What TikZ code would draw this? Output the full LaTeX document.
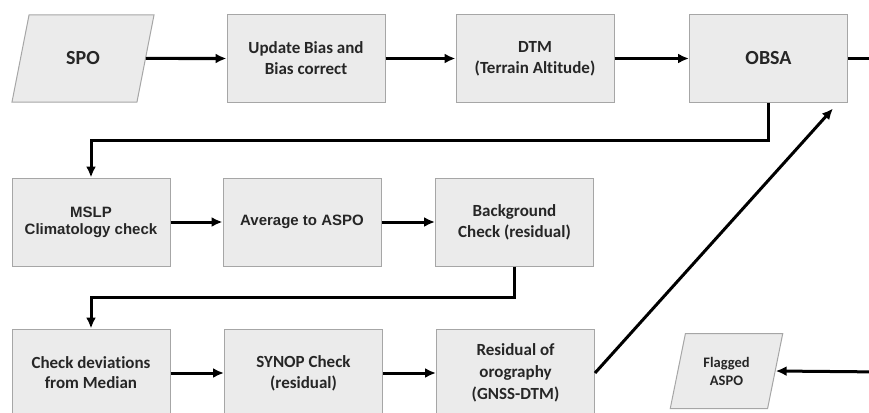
\documentclass[tikz,border=0pt]{standalone}
\usepackage{fontspec}
\setsansfont{Carlito}[Ligatures=NoCommon]
\newfontfamily\arialbold{Liberation Sans}[BoldFont={* Bold}]
\usetikzlibrary{shapes.geometric,arrows.meta,calc}

\begin{document}
\begin{tikzpicture}[x=1pt,y=-1pt,
	box/.style={draw=black!35, line width=1pt, fill=black!8, minimum width=158pt, minimum height=87pt, align=center, inner sep=2pt, text=black!85, font=\sffamily\bfseries\fontsize{17}{21}\selectfont},
	iobox/.style={box, trapezium, trapezium left angle=71, trapezium right angle=109, trapezium stretches=true},
	flow/.style={line width=3pt, -{Latex[length=11pt,width=10pt]}},
	link/.style={line width=3pt}]
	\useasboundingbox (0,0) rectangle (869,412);
	\clip (0,0) rectangle (869,412);
	
	\def\ra{58.5} % row 1
	\def\rb{222} % row 2
	\def\rc{373} % row 3
	
	% row 1
	\node[iobox, minimum width=142pt, font=\sffamily\bfseries\fontsize{20}{24}\selectfont] (spo) at (83,\ra) {SPO};
	\node[box] (upd) at (306,\ra) {Update Bias and\\Bias correct};
	\node[box] (dtm) at (535,\ra) {DTM\\(Terrain Altitude)};
	\node[box, font=\sffamily\bfseries\fontsize{20}{24}\selectfont] (obsa) at (768.5,\ra) {OBSA};
	
	% row 2
	\node[box, minimum height=88pt, font=\arialbold\bfseries\fontsize{15}{17}\selectfont] (mslp) at (91,\rb) {MSLP\\Climatology check};
	\node[box, minimum height=88pt, font=\arialbold\bfseries\fontsize{15}{17}\selectfont] (avg) at (302,\rb) {Average to ASPO};
	\node[box, minimum height=88pt] (bgc) at (514.5,\rb) {Background\\Check (residual)};
	
	% row 3 (cut by the bottom edge)
	\node[box, minimum height=88pt, font=\sffamily\bfseries\fontsize{17}{20}\selectfont] (dev) at (91,\rc) {Check deviations\\from Median};
	\node[box, minimum height=88pt] (syn) at (303.5,\rc) {SYNOP Check\\(residual)};
	\node[box, minimum height=88pt, font=\sffamily\bfseries\fontsize{17}{22}\selectfont] (res) at (515.5,\rc) {Residual of\\orography\\(GNSS-DTM)};
	\node[iobox, minimum width=113pt, minimum height=75pt, trapezium left angle=74, trapezium right angle=106, font=\sffamily\bfseries\fontsize{14.5}{18}\selectfont] (flg) at (726.5,371) {Flagged\\ASPO};
	
	% loose ends, off the right edge
	\coordinate (outa) at (885,\ra);
	\coordinate (outc) at (885,372);
	
	% connectors
	\draw[flow] (spo) -- (upd);
	\draw[flow] (upd) -- (dtm);
	\draw[flow] (dtm) -- (obsa);
	\draw[link] (obsa) -- (outa);
	\draw[flow] (obsa.south) -- ++(0,38) -| (mslp.north);
	\draw[flow] (mslp) -- (avg);
	\draw[flow] (avg) -- (bgc);
	\draw[flow] (bgc.south) -- ++(0,31) -| (dev.north);
	\draw[flow] (dev) -- (syn);
	\draw[flow] (syn) -- (res);
	\draw[flow] (res.east) -- ([xshift=-15pt,yshift=-6pt]obsa.south east);
	\draw[flow] (outc) -- (flg.east);
\end{tikzpicture}
\end{document}
